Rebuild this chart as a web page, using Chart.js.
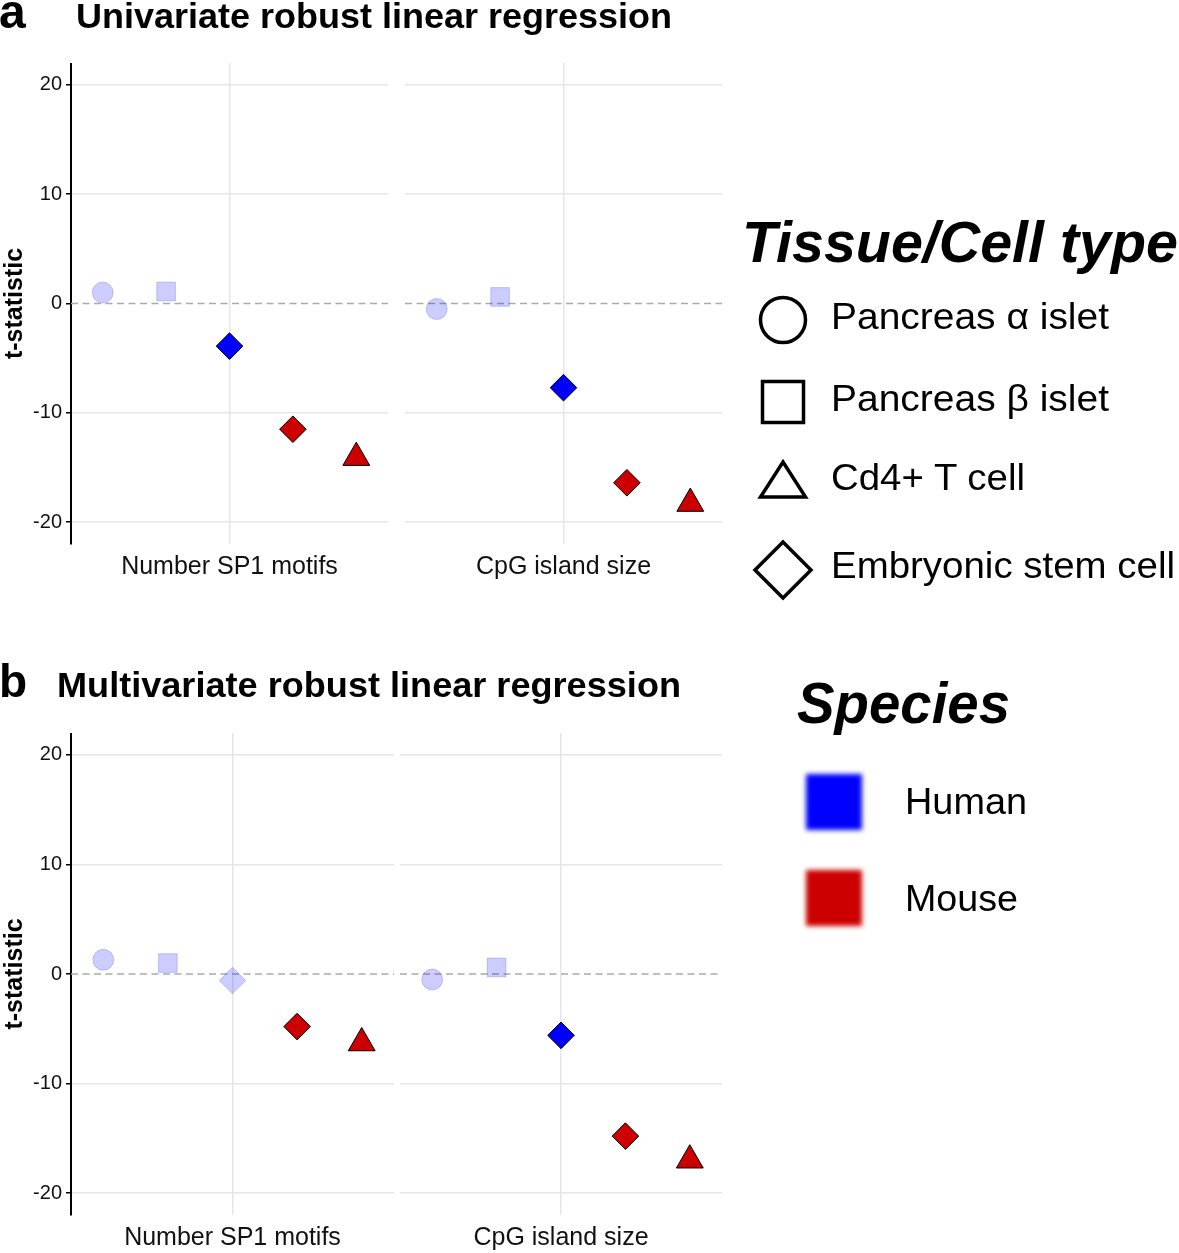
<!DOCTYPE html>
<html>
<head>
<meta charset="utf-8">
<script src="https://cdn.jsdelivr.net/npm/chart.js"></script>
<style>
  html, body { margin: 0; padding: 0; background: #fff; }
  #page { position: relative; width: 1179px; height: 1253px; overflow: hidden; }
  .facet { position: absolute; }
  #overlay { position: absolute; left: 0; top: 0; pointer-events: none; }
</style>
</head>
<body>
<div id="page">
  <div class="facet" style="left:0;top:63px;width:388px;height:521px"><canvas id="a-sp1"></canvas></div>
  <div class="facet" style="left:405px;top:63px;width:317px;height:521px"><canvas id="a-cpg"></canvas></div>
  <div class="facet" style="left:0;top:733px;width:394px;height:522px"><canvas id="b-sp1"></canvas></div>
  <div class="facet" style="left:400px;top:733px;width:322px;height:522px"><canvas id="b-cpg"></canvas></div>
  <svg id="overlay" width="1179" height="1253" xmlns="http://www.w3.org/2000/svg"></svg>
</div>
<script>
  // legend categories
  const cellTypes = ["Pancreas α islet", "Pancreas β islet", "Cd4+ T cell", "Embryonic stem cell"];
  const speciesNames = ["Human", "Mouse"];

  // five points per facet, left to right
  const pointCells = ["Pancreas α islet", "Pancreas β islet", "Embryonic stem cell", "Embryonic stem cell", "Cd4+ T cell"];
  const pointSpecies = ["Human", "Human", "Human", "Mouse", "Mouse"];
  const facetNames = ["Number SP1 motifs", "CpG island size"];
  const yTicks = [-20, -10, 0, 10, 20];

  // t-statistics
  const uniSP1 = [1.0, 1.1, -3.9, -11.5, -14.1];
  const uniCpG = [-0.5, 0.6, -7.7, -16.4, -18.3];
  const multiSP1 = [1.3, 1.0, -0.6, -4.8, -6.3];
  const multiCpG = [-0.5, 0.6, -5.6, -14.8, -17.0];

  // significant points are drawn in full colour, the rest faded
  const uniSP1Sig = [false, false, true, true, true];
  const uniCpGSig = [false, false, true, true, true];
  const multiSP1Sig = [false, false, false, true, true];
  const multiCpGSig = [false, false, true, true, true];

  const FONT = "'Liberation Sans', Arial, sans-serif";
  const gridColor = "#e6e6e6";
  const fadedFill = "rgba(0, 0, 255, 0.2)";
  const fadedBorder = "rgba(40, 40, 200, 0.22)";
  const speciesColor = { Human: "#0000ff", Mouse: "#cc0000" };
  const shapeStyle = {
    "Pancreas α islet": { pointStyle: "circle", radius: 10.5 },
    "Pancreas β islet": { pointStyle: "rect", radius: 13.2 },
    "Cd4+ T cell": { pointStyle: "triangle", radius: 15.5 },
    "Embryonic stem cell": { pointStyle: "rectRot", radius: 13.3 },
  };

  const pointLabels = pointCells.map((c, i) => c + " (" + pointSpecies[i] + ")");

  // dashed reference line at t = 0
  const zeroLine = {
    id: "zeroLine",
    beforeDatasetsDraw(chart) {
      const { ctx, chartArea, scales } = chart;
      const y = scales.y.getPixelForValue(0);
      ctx.save();
      ctx.strokeStyle = "#ababab";
      ctx.lineWidth = 1.5;
      ctx.setLineDash([7, 4.5]);
      ctx.beginPath();
      ctx.moveTo(chartArea.left, y);
      ctx.lineTo(chartArea.right, y);
      ctx.stroke();
      ctx.restore();
    },
  };

  function drawFacet(id, values, sig, title, withAxis) {
    const radii = pointCells.map((c) => shapeStyle[c].radius);
    new Chart(document.getElementById(id), {
      type: "line",
      data: {
        labels: pointLabels,
        datasets: [{
          data: values,
          showLine: false,
          clip: false,
          pointStyle: pointCells.map((c) => shapeStyle[c].pointStyle),
          pointRadius: radii,
          pointHoverRadius: radii,
          pointBackgroundColor: pointSpecies.map((s, i) => (sig[i] ? speciesColor[s] : fadedFill)),
          pointBorderColor: sig.map((v) => (v ? "#000" : fadedBorder)),
          pointBorderWidth: 1,
        }],
      },
      options: {
        responsive: true,
        maintainAspectRatio: false,
        animation: false,
        events: [],
        layout: { padding: 0, autoPadding: false },
        plugins: { legend: { display: false }, tooltip: { enabled: false } },
        scales: {
          x: {
            offset: true,
            grid: {
              offset: false,
              drawTicks: false,
              lineWidth: 1.5,
              color: (c) => (c.index === 2 ? gridColor : "transparent"),
            },
            border: { display: false },
            ticks: { display: false },
            title: {
              display: true,
              text: title,
              color: "#111",
              font: { size: 25, family: FONT },
              padding: { top: 0, bottom: 2 },
            },
            afterFit(s) { s.height = 40; s.paddingLeft = 0; s.paddingRight = 0; },
          },
          y: {
            min: -22,
            max: 22,
            afterBuildTicks(s) { s.ticks = yTicks.map((v) => ({ value: v })); },
            grid: {
              lineWidth: 1.5,
              color: (c) => (c.tick && c.tick.value === 0 ? "transparent" : gridColor),
              drawTicks: withAxis,
              tickLength: 5,
              tickColor: "#000",
              tickWidth: 1.5,
            },
            border: { display: withAxis, color: "#000", width: 2 },
            ticks: { display: withAxis, color: "#111", font: { size: 20, family: FONT }, padding: 4 },
            title: {
              display: withAxis,
              text: "t-statistic",
              color: "#000",
              font: { size: 25, weight: "bold", family: FONT },
              padding: 0,
            },
            afterFit(s) { s.width = withAxis ? 71 : 0; s.paddingTop = 0; s.paddingBottom = 0; },
          },
        },
      },
      plugins: [zeroLine],
    });
  }

  drawFacet("a-sp1", uniSP1, uniSP1Sig, facetNames[0], true);
  drawFacet("a-cpg", uniCpG, uniCpGSig, facetNames[1], false);
  drawFacet("b-sp1", multiSP1, multiSP1Sig, facetNames[0], true);
  drawFacet("b-cpg", multiCpG, multiCpGSig, facetNames[1], false);

  // titles and legends
  const svg = document.getElementById("overlay");
  const NS = "http://www.w3.org/2000/svg";
  function el(tag, attrs, text) {
    const n = document.createElementNS(NS, tag);
    for (const k in attrs) n.setAttribute(k, attrs[k]);
    if (text !== undefined) n.textContent = text;
    svg.appendChild(n);
    return n;
  }
  function label(text, x, y, size, extra) {
    return el("text", Object.assign({ x, y, "font-size": size, "font-family": FONT, fill: "#000" }, extra || {}), text);
  }

  const defs = el("defs", {});
  const filter = document.createElementNS(NS, "filter");
  filter.setAttribute("id", "soft");
  filter.setAttribute("x", "-30%"); filter.setAttribute("y", "-30%");
  filter.setAttribute("width", "160%"); filter.setAttribute("height", "160%");
  const blur = document.createElementNS(NS, "feGaussianBlur");
  blur.setAttribute("stdDeviation", "2.5");
  filter.appendChild(blur);
  defs.appendChild(filter);

  label("a", -1, 28, 48, { "font-weight": "bold" });
  label("Univariate robust linear regression", 76, 28, 35, { "font-weight": "bold", textLength: 596, lengthAdjust: "spacingAndGlyphs" });
  label("b", -1, 697, 46, { "font-weight": "bold" });
  label("Multivariate robust linear regression", 57, 697, 35, { "font-weight": "bold", textLength: 624, lengthAdjust: "spacingAndGlyphs" });

  label("Tissue/Cell type", 742, 262, 57, { "font-weight": "bold", "font-style": "italic", textLength: 436, lengthAdjust: "spacingAndGlyphs" });
  label("Species", 797, 723, 57, { "font-weight": "bold", "font-style": "italic", textLength: 213, lengthAdjust: "spacingAndGlyphs" });

  const labelWidth = { "Pancreas α islet": 278, "Pancreas β islet": 278, "Cd4+ T cell": 194, "Embryonic stem cell": 344, Human: 122, Mouse: 113 };
  const shapeCenterY = [320, 402, 479, 570];
  const shapeTextY = [329, 411, 490, 578];
  const cx = 783;
  const stroke = { fill: "none", stroke: "#000", "stroke-width": 3.5 };
  cellTypes.forEach((name, i) => {
    const cy = shapeCenterY[i];
    const st = shapeStyle[name].pointStyle;
    if (st === "circle") el("circle", Object.assign({ cx, cy, r: 22.5 }, stroke));
    else if (st === "rect") el("rect", Object.assign({ x: cx - 20.5, y: cy - 20.5, width: 41, height: 41 }, stroke));
    else if (st === "triangle") el("polygon", Object.assign({ points: `${cx},${cy - 17} ${cx + 22.5},${cy + 18} ${cx - 22.5},${cy + 18}` }, stroke));
    else el("polygon", Object.assign({ points: `${cx},${cy - 28} ${cx + 28},${cy} ${cx},${cy + 28} ${cx - 28},${cy}` }, stroke));
    label(name, 831, shapeTextY[i], 37, { textLength: labelWidth[name], lengthAdjust: "spacingAndGlyphs" });
  });

  const speciesCenterY = [802, 898];
  const speciesTextY = [814, 911];
  speciesNames.forEach((name, i) => {
    el("rect", { x: 806, y: speciesCenterY[i] - 28, width: 56, height: 56, fill: speciesColor[name], filter: "url(#soft)" });
    label(name, 905, speciesTextY[i], 37, { textLength: labelWidth[name], lengthAdjust: "spacingAndGlyphs" });
  });
</script>
</body>
</html>
